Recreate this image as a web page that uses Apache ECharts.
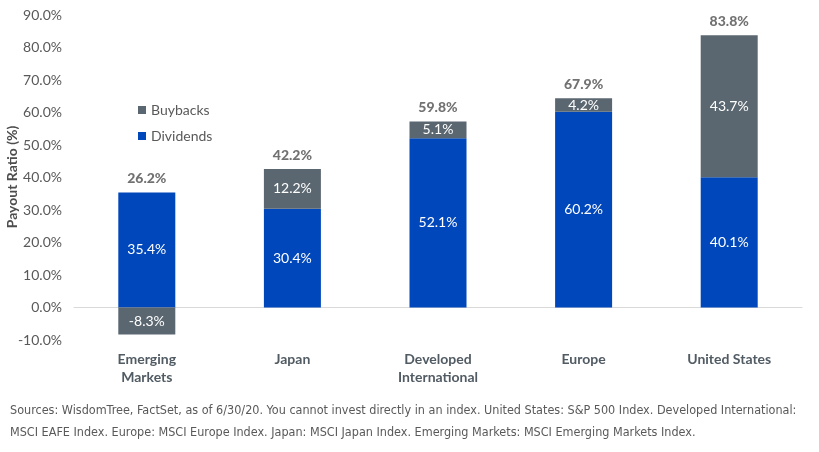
<!DOCTYPE html>
<html><head><meta charset="utf-8">
<script src="https://cdn.jsdelivr.net/npm/echarts@6/dist/echarts.min.js"></script>
<style>html,body{margin:0;padding:0;background:#fff}#c{width:819px;height:452px}</style>
</head><body><div id="c"></div>
<script>
const categories = ['Emerging\nMarkets', 'Japan', 'Developed\nInternational', 'Europe', 'United States'];
const dividends = [35.4, 30.4, 52.1, 60.2, 40.1];
const buybacks = [-8.3, 12.2, 5.1, 4.2, 43.7];
const totalLabels = ['26.2%', '42.2%', '59.8%', '67.9%', '83.8%'];
const yTicks = { min: -10, max: 90, interval: 10 };

const stackTops = dividends.map((d, i) => Math.max(d, 0) + Math.max(buybacks[i], 0));
const font = 'Lato, "Open Sans", sans-serif';
const chart = echarts.init(document.getElementById('c'), null, { renderer: 'canvas' });
chart.setOption({
  animation: false,
  textStyle: { fontFamily: font },
  grid: { left: 74, right: 17, top: 15, bottom: 112, containLabel: false, outerBoundsMode: 'none' },
  legend: {
    orient: 'vertical', left: 133, top: 98,
    data: ['Buybacks', 'Dividends'],
    icon: 'rect', itemWidth: 8, itemHeight: 8, itemGap: 12,
    textStyle: { color: '#595959', fontSize: 14, fontFamily: font }
  },
  xAxis: {
    type: 'category', data: categories,
    axisLine: { onZero: true, lineStyle: { color: '#d9d9d9' } },
    axisTick: { show: false },
    axisLabel: { color: '#515b63', fontWeight: 'bold', fontSize: 14, lineHeight: 18, margin: 10, interval: 0, fontFamily: font }
  },
  yAxis: {
    type: 'value', min: yTicks.min, max: yTicks.max, interval: yTicks.interval,
    splitLine: { show: false },
    axisLine: { show: false }, axisTick: { show: false },
    axisLabel: { color: '#595959', fontSize: 14, margin: 12, formatter: v => v.toFixed(1) + '%', fontFamily: font }
  },
  series: [
    {
      name: 'Dividends', type: 'bar', stack: 'a', data: dividends, barWidth: 57,
      itemStyle: { color: '#0047BB' },
      label: { show: true, position: 'inside', color: '#fff', fontSize: 14, formatter: p => p.value.toFixed(1) + '%' }
    },
    {
      name: 'Buybacks', type: 'bar', stack: 'a', data: buybacks, barWidth: 57,
      itemStyle: { color: '#5B6770' },
      label: { show: true, position: 'inside', color: '#fff', fontSize: 14, formatter: p => p.value.toFixed(1) + '%' }
    },
    {
      name: 'Totals', type: 'scatter', data: stackTops, symbolSize: 0, silent: true,
      label: { show: true, position: 'top', distance: 7, color: '#4d4d4d', fontWeight: 900, fontSize: 14,
        formatter: p => totalLabels[p.dataIndex] }
    }
  ],
  graphic: [
    { type: 'text', x: 12, y: 177, rotation: Math.PI / 2, style: { text: 'Payout Ratio (%)', fill: '#4d4d4d', align: 'center', verticalAlign: 'middle', font: 'bold 14px Lato, sans-serif' } },
    { type: 'text', left: 10, top: 404, style: { text: 'Sources: WisdomTree, FactSet, as of 6/30/20. You cannot invest directly in an index. United States: S&P 500 Index. Developed International:', fill: '#595959', font: '12.5px "Liberation Sans Narrow", "DejaVu Sans Condensed", sans-serif' } },
    { type: 'text', left: 10, top: 426, style: { text: 'MSCI EAFE Index. Europe: MSCI Europe Index. Japan: MSCI Japan Index. Emerging Markets: MSCI Emerging Markets Index.', fill: '#595959', font: '12.5px "Liberation Sans Narrow", "DejaVu Sans Condensed", sans-serif' } }
  ]
});
</script></body></html>
